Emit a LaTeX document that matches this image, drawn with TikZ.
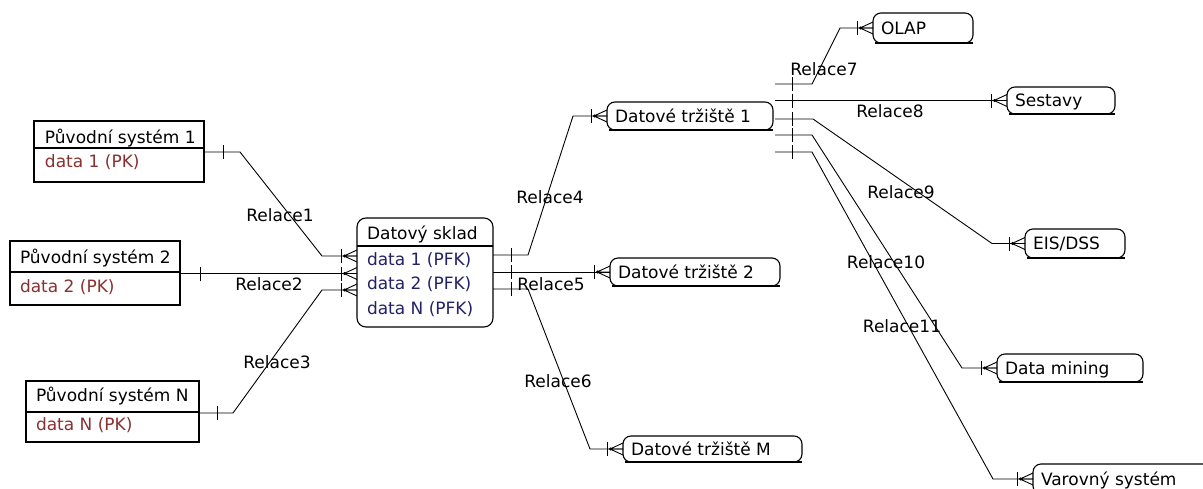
\documentclass[tikz,border=0pt]{standalone}
\usepackage{fontspec}
\setmainfont{DejaVu Sans}
\definecolor{pkred}{HTML}{8B3030}
\definecolor{fknavy}{HTML}{222266}
\begin{document}
\begin{tikzpicture}[x=1pt,y=-1pt,
  every node/.style={font=\fontsize{17}{19}\selectfont, inner sep=0pt, outer sep=0pt},
  link/.style={line width=0.9pt},
  srcbox/.style={draw, line width=1.1pt, rectangle, anchor=north west},
  whbox/.style={draw, line width=1.1pt, rounded corners=9pt, anchor=north west},
  martbox/.style={draw, line width=1.1pt, rounded corners=8pt, anchor=north west},
  txt/.style={anchor=base west},
  lbl/.style={anchor=base},
  crowfoot/.pic={
    \draw[link] (-16,-7) -- (-16,7);
    \draw[link] (-13,0) -- (0,-6) (-13,0) -- (0,0) (-13,0) -- (0,6);
    \fill (-12.5,0) circle (1.6pt);
  },
  onebar/.pic={\draw[link] (0,-7) -- (0,7);}
]
\useasboundingbox (0,0) rectangle (1203,488);
\clip (0,0) rectangle (1203,488);
\fill[white] (0,0) rectangle (1203,488);

% source systems: title row + key row
\node[srcbox, minimum width=170pt, minimum height=27pt] (ps1) at (34,121) {};
\node[srcbox, minimum width=170pt, minimum height=34pt] (ps1a) at (ps1.south west) {};
\node[txt] (ps1t) at (45,143) {Původní systém 1};
\node[txt, text=pkred] (ps1k) at (45,167) {data 1 (PK)};

\node[srcbox, minimum width=170pt, minimum height=31pt] (ps2) at (10,241) {};
\node[srcbox, minimum width=170pt, minimum height=33pt] (ps2a) at (ps2.south west) {};
\node[txt] (ps2t) at (20,263) {Původní systém 2};
\node[txt, text=pkred] (ps2k) at (20,292) {data 2 (PK)};

\node[srcbox, minimum width=173pt, minimum height=31pt] (psN) at (26,381) {};
\node[srcbox, minimum width=173pt, minimum height=30pt] (psNa) at (psN.south west) {};
\node[txt] (psNt) at (36,401) {Původní systém N};
\node[txt, text=pkred] (psNk) at (36,430) {data N (PK)};

% warehouse
\node[whbox, minimum width=136pt, minimum height=109pt] (sklad) at (357,218) {};
\draw[line width=1.1pt] (sklad.west |- 0,246) -- (sklad.east |- 0,246);
\node[txt] (skt) at (367,239) {Datový sklad};
\node[txt, text=fknavy] (sk1) at (367,265) {data 1 (PFK)};
\node[txt, text=fknavy] (sk2) at (367,289) {data 2 (PFK)};
\node[txt, text=fknavy] (sk3) at (367,314) {data N (PFK)};

% consumers
\foreach \n/\x/\y/\w/\h/\t in {
  dt1/607/102/166/28/{Datové tržiště 1},
  dt2/610/258/170/28/{Datové tržiště 2},
  dtm/623/436/179/26/{Datové tržiště M},
  olap/873/13/100/30/{OLAP},
  sestavy/1007/87/108/27/{Sestavy},
  eis/1025/229/100/29/{EIS/DSS},
  dm/997/354/146/28/{Data mining},
  var/1033/464/200/30/{Varovný systém}}{
  \node[martbox, minimum width=\w pt, minimum height=\h pt] (\n) at (\x,\y) {};
  \draw[line width=1.9pt] ([xshift=2pt]\n.south west) -- (\n.south east);
  \node[txt] (\n t) at ([xshift=8pt,yshift=-6pt]\n.west) {\t};
}

% sources to warehouse
\draw[link] (ps1a.east |- 0,152) -- (240,152) -- (322,256) -- (sklad.west |- 0,256);
\pic at (223,152) {onebar};
\pic at (sklad.west |- 0,256) {crowfoot};
\draw[link] (ps2a.east |- 0,273.5) -- (sklad.west |- 0,273.5);
\pic at (200,273.5) {onebar};
\pic at (sklad.west |- 0,273.5) {crowfoot};
\draw[link] (psNa.east |- 0,413) -- (233,413) -- (322,290) -- (sklad.west |- 0,290);
\pic at (217,413) {onebar};
\pic at (sklad.west |- 0,290) {crowfoot};

% warehouse to data marts
\draw[link] (sklad.east |- 0,255) -- (528,255) -- (573,116) -- (dt1.west);
\pic at (511,255) {onebar};
\pic at (dt1.west) {crowfoot};
\draw[link] (sklad.east |- 0,272) -- (dt2.west);
\pic at (511,272) {onebar};
\pic at (dt2.west) {crowfoot};
\draw[link] (sklad.east |- 0,289) -- (528,289) -- (590,449) -- (dtm.west);
\pic at (511,289) {onebar};
\pic at (dtm.west) {crowfoot};

% data mart 1 to applications
\coordinate (d1o) at ([xshift=2pt]dt1.east);
\draw[link] (d1o |- 0,84) -- (812,84) -- (840,28) -- (olap.west);
\draw[link] (d1o |- sestavy.west) -- (sestavy.west);
\draw[link] (d1o |- 0,119) -- (813,119) -- (992,243.5) -- (eis.west);
\draw[link] (d1o |- 0,135) -- (812,135) -- (962,368) -- (dm.west);
\draw[link] (d1o |- 0,152) -- (812,152) -- (993,479) -- (var.west);
\foreach \yy in {84,100.5,119,135,152} \pic at (792,\yy) {onebar};
\foreach \n in {olap,sestavy,eis,dm,var} \pic at (\n.west) {crowfoot};

% relationship names
\node[lbl] (r1) at (280,221) {Relace1};
\node[lbl] (r2) at (269,290) {Relace2};
\node[lbl] (r3) at (277,368) {Relace3};
\node[lbl] (r4) at (550,203) {Relace4};
\node[lbl] (r5) at (551,290) {Relace5};
\node[lbl] (r6) at (558,387) {Relace6};
\node[lbl] (r7) at (824,75) {Relace7};
\node[lbl] (r8) at (890,117) {Relace8};
\node[lbl] (r9) at (901,198) {Relace9};
\node[lbl] (r10) at (886,268) {Relace10};
\node[lbl] (r11) at (902,332) {Relace11};
\end{tikzpicture}
\end{document}
